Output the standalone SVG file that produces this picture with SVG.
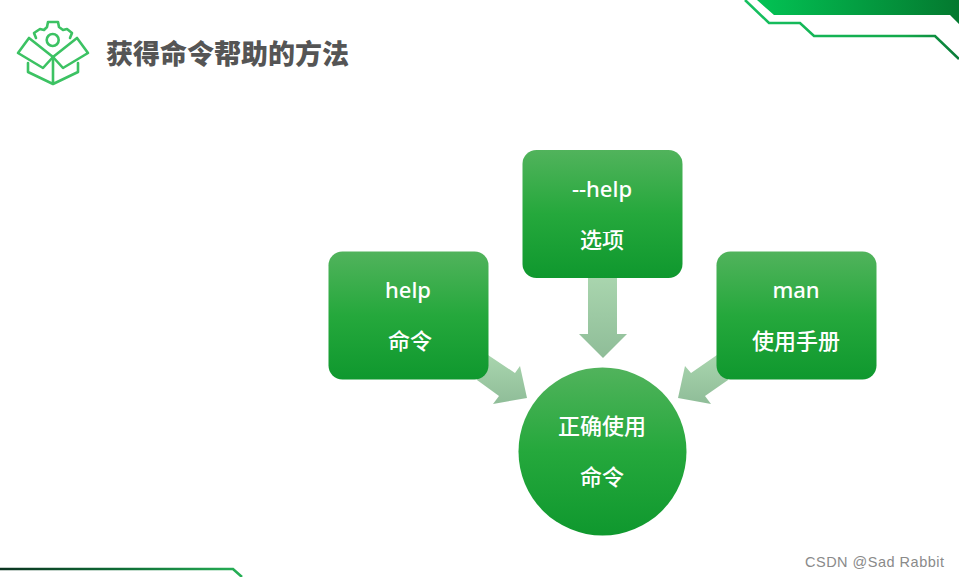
<svg xmlns="http://www.w3.org/2000/svg" width="959" height="577" viewBox="0 0 959 577">
<defs>
<linearGradient id="nodeFill" x1="0" y1="0" x2="0" y2="1"><stop offset="0" stop-color="#51b35c"/><stop offset="0.5" stop-color="#25a83c"/><stop offset="1" stop-color="#0f982e"/></linearGradient>
<linearGradient id="arrowFill" x1="0" y1="0" x2="0" y2="1"><stop offset="0" stop-color="#a9d5ae"/><stop offset="1" stop-color="#8fbd98"/></linearGradient>
<linearGradient id="banner" x1="0" y1="0" x2="1" y2="0"><stop offset="0" stop-color="#02c354"/><stop offset="1" stop-color="#04792f"/></linearGradient>
<linearGradient id="line2" gradientUnits="userSpaceOnUse" x1="745" y1="0" x2="959" y2="0"><stop offset="0" stop-color="#16c060"/><stop offset="0.75" stop-color="#12a84a"/><stop offset="1" stop-color="#0a7a38"/></linearGradient>
<linearGradient id="line3" gradientUnits="userSpaceOnUse" x1="0" y1="0" x2="242" y2="0"><stop offset="0" stop-color="#0b3320"/><stop offset="0.5" stop-color="#0e6c35"/><stop offset="1" stop-color="#27b056"/></linearGradient>
</defs>
<style>
.t{font-family:"Noto Sans","Noto Sans CJK SC",sans-serif;font-size:22px;fill:#fff;text-anchor:middle;font-weight:500}
.i{fill:none;stroke:#3cc263;stroke-width:2.6;stroke-linejoin:round;stroke-linecap:round}
.a{fill:url(#arrowFill)}
</style>
<rect width="959" height="577" fill="#fff"/>
<g id="decor-top">
<polygon points="757,0 959,0 959,24 950,15 774,15" fill="url(#banner)"/>
<polyline points="745,0 769,23 800,23 814,36 935,36 959,59" fill="none" stroke="url(#line2)" stroke-width="2.6"/>
</g>
<g id="decor-bottom"><polyline points="0,569 233,569 242,577" fill="none" stroke="url(#line3)" stroke-width="2.6"/></g>
<g id="title-icon">
<path class="i" d="M36 38 L34 33 L40 29 L44 30 L47 27 L48 22 L58 22 L59 27 L63 30 L67 29 L72 33 L70 38"/>
<circle class="i" cx="52.700" cy="40" r="6"/>
<path class="i" d="M53 57 L77 38 L88 53 L63 68 Z"/>
<path class="i" d="M53 57 L29 38 L18 53 L43 68 Z"/>
<path class="i" d="M28 63 V72 L53 84 L78 72 V63 M53 57 V84"/>
</g>
<text id="title" x="106" y="64" font-family="'Noto Sans CJK SC',sans-serif" font-size="27" font-weight="900" fill="#555">获得命令帮助的方法</text>
<g id="connectors">
<polygon class="a" points="588,277 617,277 617,334 627,334 603,358 579,334 588,334"/>
<polygon class="a" points="488,355 515,373 520,366 527,398 493,404 499,396 477,380"/>
<polygon class="a" points="717,355 691,373 685,366 678,398 711,404 705,396 728,380"/>
</g>
<g id="node-help"><rect x="328.500" y="251.500" width="160" height="128" rx="14" fill="url(#nodeFill)"/><text class="t" x="408" y="298">help</text><text class="t" x="410" y="349">命令</text></g>
<g id="node-dashhelp"><rect x="522.500" y="150" width="160" height="128" rx="14" fill="url(#nodeFill)"/><text class="t" x="602" y="197">--help</text><text class="t" x="602" y="248">选项</text></g>
<g id="node-man"><rect x="716.500" y="251.500" width="160" height="128" rx="14" fill="url(#nodeFill)"/><text class="t" x="796" y="298">man</text><text class="t" x="796" y="349">使用手册</text></g>
<g id="node-center"><circle cx="602.500" cy="451.500" r="84" fill="url(#nodeFill)"/><text class="t" x="602" y="434">正确使用</text><text class="t" x="602" y="485">命令</text></g>
<text id="watermark" x="805" y="567" font-family="'Liberation Sans',sans-serif" font-size="14.500" fill="#8a8a8a" textLength="139">CSDN @Sad Rabbit</text>
</svg>
